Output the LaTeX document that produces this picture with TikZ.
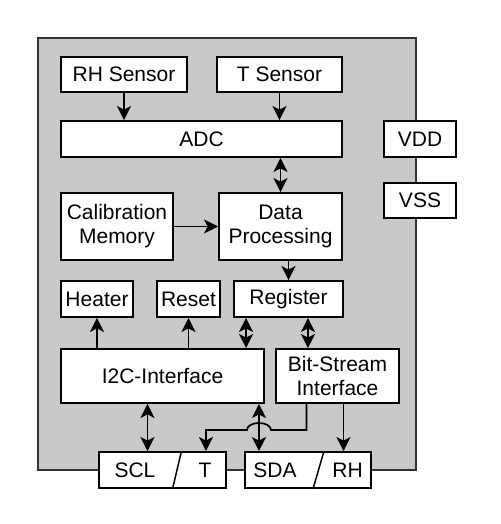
\documentclass[tikz,border=0pt]{standalone}
\usepackage{fontspec}
\setmainfont{Liberation Sans}
\usepackage{xcolor}
\usetikzlibrary{arrows.meta,calc,positioning}
\definecolor{chipgray}{RGB}{200,200,200}

\begin{document}
\begin{tikzpicture}[x=1pt,y=-1pt,
    blk/.style={draw=black,line width=1.9pt,fill=white,inner sep=0pt,align=center,
        font=\fontsize{21}{24}\selectfont},
    lbl/.style={inner sep=0pt,font=\fontsize{21}{24}\selectfont},
    arr/.style={line width=1.7pt,-{Stealth[length=14pt,width=14pt,inset=3.5pt]}},
    darr/.style={line width=1.7pt,{Stealth[length=14pt,width=14pt,inset=3.5pt]}-{Stealth[length=14pt,width=14pt,inset=3.5pt]}}]
    \useasboundingbox (0,0) rectangle (500,524);

    % Chip
    \draw[fill=chipgray,draw=black!80,line width=1.5pt] (38,38) rectangle (416,470);

    % Sensors and ADC
    \node[blk,minimum width=126,minimum height=35] (rh) at (124,74.5) {RH Sensor};
    \node[blk,minimum width=125,minimum height=35] (ts) at (279.5,74.5) {T Sensor};
    \node[blk,minimum width=281,minimum height=36] (adc) at (201.5,139) {ADC};

    % Processing
    \node[blk,minimum width=112,minimum height=67] (cal) at (117,226.5) {Calibration\\Memory};
    \node[blk,minimum width=123,minimum height=67] (dp) at (280.5,226.5) {Data\\Processing};

    % Register row
    \node[blk,minimum width=72,minimum height=36] (heater) at (97,299) {Heater};
    \node[blk,minimum width=63,minimum height=36] (reset) at (188.5,299) {Reset};
    \node[blk,minimum width=109,minimum height=36] (reg) at (288.5,299) {Register};

    % Interfaces
    \node[blk,minimum width=203,minimum height=54] (i2c) at (162.5,376) {I2C-Interface};
    \node[blk,minimum width=123,minimum height=54] (bs) at (337.5,376) {Bit-Stream\\Interface};

    % Pins
    \node[blk,minimum width=127,minimum height=36] (sclt) at (162.5,470) {};
    \draw[line width=1.5pt] ([xshift=10pt]sclt.south) -- ([xshift=19pt]sclt.north);
    \node[lbl] (scl) at (135,470) {SCL};
    \node[lbl] (tpin) at (205,470) {T};
    \node[blk,minimum width=126,minimum height=36] (sdarh) at (308,470) {};
    \draw[line width=1.5pt] ([xshift=5pt]sdarh.south) -- ([xshift=16pt]sdarh.north);
    \node[lbl] (sda) at (275,470) {SDA};
    \node[lbl] (rhpin) at (347.5,470) {RH};
    \node[blk,minimum width=72,minimum height=36] (vdd) at (420,139) {VDD};
    \node[blk,minimum width=72,minimum height=35] (vss) at (420,200.5) {VSS};

    % Connections
    \draw[arr] (rh.south) -- (rh.south |- adc.north);
    \draw[arr] (ts.south) -- (ts.south |- adc.north);
    \draw[darr] (dp.north |- adc.south) -- (dp.north);
    \draw[arr] (cal.east) -- (dp.west);
    \draw[arr] (reg.north |- dp.south) -- (reg.north);
    \draw[arr] (heater.south |- i2c.north) -- (heater.south);
    \draw[arr] (reset.south |- i2c.north) -- (reset.south);
    \draw[darr] ([xshift=13pt]reg.south west) -- ([xshift=13pt]reg.south west |- i2c.north);
    \draw[darr] ([xshift=-36pt]reg.south east) -- ([xshift=-36pt]reg.south east |- bs.north);
    \draw[darr] ([xshift=-15pt]i2c.south) -- ([xshift=-15pt]i2c.south |- sclt.north);
    \draw[darr] ([xshift=-6pt]i2c.south east) -- ([xshift=-6pt]i2c.south east |- sdarh.north);
    \coordinate (hopR) at ($(i2c.south east)+(6,26)$);
    \draw[arr] ([xshift=-31pt]bs.south) |- (hopR)
        arc[start angle=0,end angle=-180,x radius=12,y radius=7]
        -| ([xshift=-21pt]sclt.north east);
    \draw[arr] ([xshift=6pt]bs.south) -- ([xshift=6pt]bs.south |- sdarh.north);
\end{tikzpicture}
\end{document}
